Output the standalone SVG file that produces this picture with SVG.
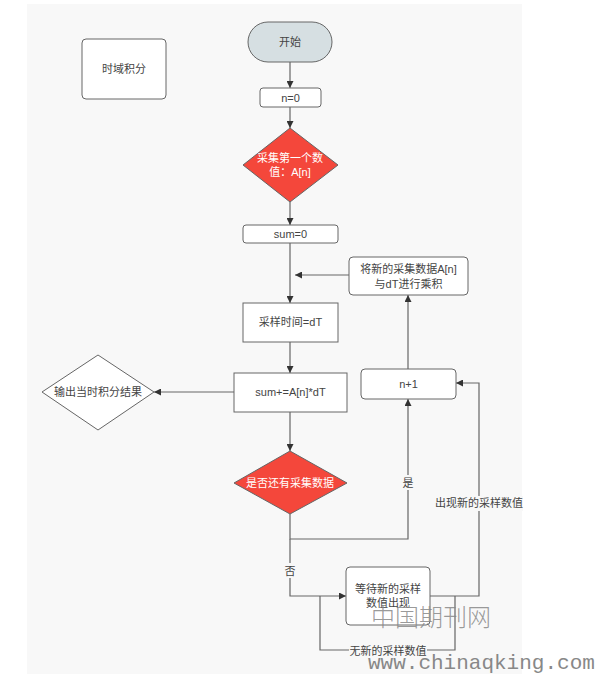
<svg xmlns="http://www.w3.org/2000/svg" width="598" height="674" viewBox="0 0 598 674">
<defs>
<marker id="ah" viewBox="0 0 10 10" refX="10" refY="5" markerWidth="7" markerHeight="7" orient="auto" markerUnits="userSpaceOnUse">
<path d="M0,0 L10,5 L0,10 z" fill="#333"/>
</marker>
<style>
.bx{fill:#fff;stroke:#666;stroke-width:1}
.rd{fill:#f4473b;stroke:#666;stroke-width:1}
.t{font-family:"Liberation Sans","Noto Sans CJK SC",sans-serif;font-size:11px;fill:#444;text-anchor:middle}
.w{fill:#fff}
.c{fill:none;stroke:#666;stroke-width:1.2}
.a{marker-end:url(#ah)}
.lb{font-family:"Liberation Sans","Noto Sans CJK SC",sans-serif;font-size:11px;fill:#444;text-anchor:middle}
</style>
</defs>
<rect x="0" y="0" width="598" height="674" fill="#fff"/>
<rect x="27" y="4" width="495" height="670" fill="#f8f8f8"/>

<g id="connectors">
<path class="c a" d="M290,62 L290,88"/>
<path class="c a" d="M290,107 L290,128"/>
<path class="c a" d="M290,202 L290,225"/>
<path class="c a" d="M290,243 L290,303"/>
<path class="c a" d="M349,275 L295,275"/>
<path class="c a" d="M408,369 L408,295"/>
<path class="c a" d="M290,342 L290,373"/>
<path class="c a" d="M234,392 L154,392"/>
<path class="c a" d="M290,412 L290,451"/>
<path class="c a" d="M290,514 L290,539 L408,539 L408,399"/>
<path class="c a" d="M290,539 L290,596 L346,596"/>
<path class="c a" d="M430,596 L479,596 L479,383 L456,383"/>
<path class="c" d="M455,596 L455,650 L320,650 L320,596"/>
<rect x="402" y="475" width="12" height="15" fill="#f8f8f8"/>
<text class="lb" x="408" y="487">是</text>
<rect x="284" y="563" width="12" height="15" fill="#f8f8f8"/>
<text class="lb" x="290" y="575">否</text>
<rect x="435" y="496" width="88" height="15" fill="#f8f8f8"/>
<text class="lb" x="479" y="507">出现新的采样数值</text>
<rect x="349" y="644" width="78" height="14" fill="#f8f8f8"/>
<text class="lb" x="388" y="655">无新的采样数值</text>
</g>

<g id="title">
<rect class="bx" x="82" y="39" width="84" height="60" rx="4"/>
<text class="t" x="124" y="73">时域积分</text>
</g>
<g id="start">
<rect x="248" y="22" width="84" height="40" rx="20" fill="#d6dfe2" stroke="#666"/>
<text class="t" x="290" y="46">开始</text>
</g>
<g id="n0">
<rect class="bx" x="260" y="88" width="61" height="19" rx="3"/>
<text class="t" x="290.5" y="101.5">n=0</text>
</g>
<g id="d1">
<polygon class="rd" points="290,128 338,165 290,202 243,165"/>
<text class="t w" x="290" y="162">采集第一个数</text>
<text class="t w" x="290" y="176">值：A[n]</text>
</g>
<g id="sum0">
<rect class="bx" x="243" y="225" width="95" height="18" rx="3"/>
<text class="t" x="290.5" y="238">sum=0</text>
</g>
<g id="mul">
<rect class="bx" x="349" y="257" width="119" height="38" rx="4"/>
<text class="t" x="408.5" y="273">将新的采集数据A[n]</text>
<text class="t" x="408.5" y="288">与dT进行乘积</text>
</g>
<g id="dt">
<rect class="bx" x="243" y="303" width="95" height="39"/>
<text class="t" x="290.5" y="326">采样时间=dT</text>
</g>
<g id="acc">
<rect class="bx" x="234" y="373" width="113" height="39"/>
<text class="t" x="290.5" y="396">sum+=A[n]*dT</text>
</g>
<g id="out">
<polygon class="bx" points="98,355 154,392 98,430 42,392"/>
<text class="t" x="98" y="396">输出当时积分结果</text>
</g>
<g id="n1">
<rect class="bx" x="361" y="369" width="95" height="30" rx="4"/>
<text class="t" x="408.5" y="388">n+1</text>
</g>
<g id="d2">
<polygon class="rd" points="290,451 347,483 290,514 234,483"/>
<text class="t w" x="290" y="487">是否还有采集数据</text>
</g>
<g id="wait">
<rect class="bx" x="346" y="567" width="84" height="58" rx="4"/>
<text class="t" x="388" y="593">等待新的采样</text>
<text class="t" x="388" y="607">数值出现</text>
</g>
<g id="watermark">
<text x="371" y="626" font-family="'Noto Sans CJK SC',sans-serif" font-weight="300" font-size="24" fill="#888" fill-opacity="0.85" letter-spacing="0">中国期刊网</text>
<text x="368" y="669" font-family="'Liberation Mono',monospace" font-size="21" fill="#888">www.chinaqking.com</text>
</g>
</svg>
